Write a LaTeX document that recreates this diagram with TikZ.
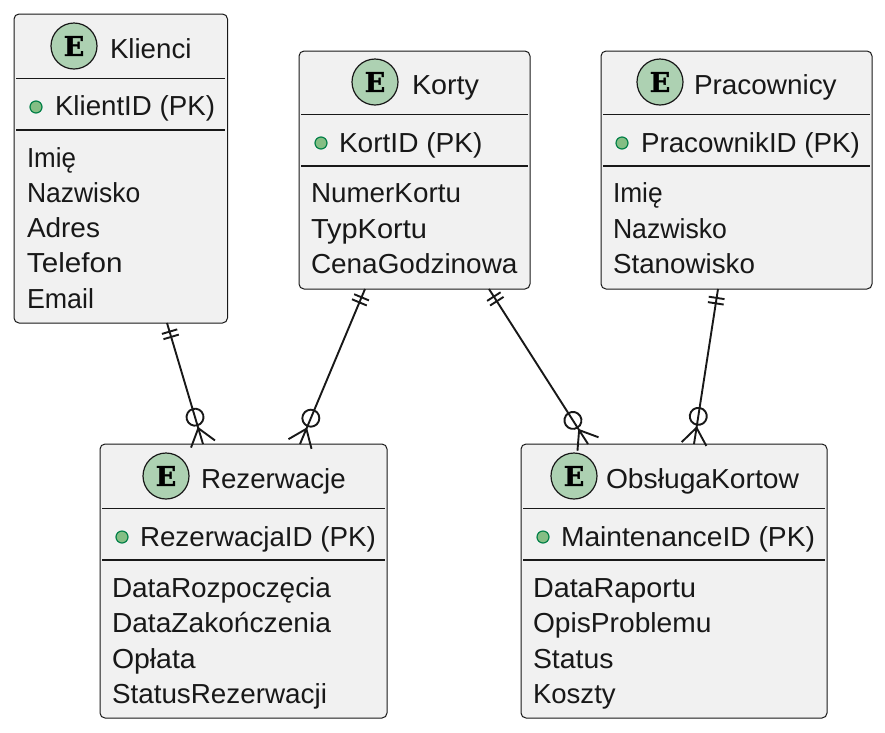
\documentclass[tikz,border=0pt]{standalone}
\usepackage{fontspec}
\usepackage{graphicx}
\setmainfont{Liberation Sans}
\newfontfamily\badgefont{DejaVu Serif}[BoldFeatures={FakeBold=1.5}]
\usetikzlibrary{arrows.meta}
\definecolor{boxfill}{HTML}{F1F1F1}
\definecolor{inkdark}{HTML}{181818}
\definecolor{badge}{HTML}{ADD1B2}
\definecolor{dotfill}{HTML}{84BE84}
\definecolor{dotline}{HTML}{038048}
\newcommand{\fitw}[2]{\resizebox{#1pt}{\height}{#2}}
\pgfdeclarearrow{name=CrowZero,cache=false,
  setup code={\pgfarrowssettipend{0pt}\pgfarrowssetlineend{0pt}\pgfarrowssetbackend{-37pt}\pgfarrowssetvisualbackend{0pt}},
  drawing code={\pgfsetdash{}{0pt}\pgfsetlinewidth{1.9pt}%
    \pgfpathmoveto{\pgfpoint{0pt}{12.5pt}}\pgfpathlineto{\pgfpoint{-16.5pt}{0pt}}\pgfpathlineto{\pgfpoint{0pt}{-12.5pt}}%
    \pgfpathcircle{\pgfpoint{-28pt}{0pt}}{8.5pt}\pgfusepathqstroke}}
\pgfdeclarearrow{name=BarPair,cache=false,
  setup code={\pgfarrowssettipend{0pt}\pgfarrowssetlineend{0pt}\pgfarrowssetbackend{-15pt}\pgfarrowssetvisualbackend{0pt}},
  drawing code={\pgfsetdash{}{0pt}\pgfsetlinewidth{1.9pt}%
    \pgfpathmoveto{\pgfpoint{-9pt}{8pt}}\pgfpathlineto{\pgfpoint{-9pt}{-8pt}}%
    \pgfpathmoveto{\pgfpoint{-14.5pt}{8pt}}\pgfpathlineto{\pgfpoint{-14.5pt}{-8pt}}\pgfusepathqstroke}}
\tikzset{
  entitybox/.style={draw=inkdark,fill=boxfill,line width=1pt,rounded corners=5pt,anchor=north west,inner sep=0pt,outer sep=0pt},
  label/.style={anchor=base west,inner sep=0pt,outer sep=0pt,text=inkdark,font=\fontsize{27.5}{30}\selectfont},
  badgecircle/.style={circle,draw=inkdark,fill=badge,line width=1.2pt,minimum size=46pt,inner sep=0pt,font=\fontsize{27}{27}\selectfont\badgefont\bfseries},
  keydot/.style={circle,draw=dotline,fill=dotfill,line width=1.2pt,minimum size=12pt,inner sep=0pt},
  thinrule/.style={draw=inkdark,line width=1pt},
  thickrule/.style={draw=inkdark,line width=1.9pt},
  relation/.style={draw=inkdark,line width=1.9pt,{BarPair}-{CrowZero}},
}
\begin{document}
\begin{tikzpicture}[x=1pt,y=-1pt]
\useasboundingbox (0,0) rectangle (885,732);
% Klienci
\node[entitybox,minimum width=213.5pt,minimum height=309pt] (klienci) at (14,14) {};
\node[badgecircle] (klienciE) at (74,46) {E};
\node[label] (klienciT) at (110,58) {\fitw{81.5}{Klienci}};
\draw[thinrule] (16,78) -- (225,78);
\node[keydot] (klienciD) at (36,107) {};
\node[label] (klienciK) at (55,115) {\fitw{160}{KlientID (PK)}};
\draw[thickrule] (16,130) -- (225,130);
\node[label] (klienci1) at (27,167) {\fitw{49}{Imię}};
\node[label] (klienci2) at (27,202) {\fitw{113.3}{Nazwisko}};
\node[label] (klienci3) at (27,237) {\fitw{73}{Adres}};
\node[label] (klienci4) at (27,272.5) {\fitw{95.5}{Telefon}};
\node[label] (klienci5) at (27,308) {\fitw{67}{Email}};
% Korty
\node[entitybox,minimum width=231pt,minimum height=238pt] (korty) at (299,51) {};
\node[badgecircle] (kortyE) at (375,82) {E};
\node[label] (kortyT) at (412,94) {\fitw{67}{Korty}};
\draw[thinrule] (301,114.5) -- (528,114.5);
\node[keydot] (kortyD) at (321,143) {};
\node[label] (kortyK) at (339,152) {\fitw{143.5}{KortID (PK)}};
\draw[thickrule] (301,166) -- (528,166);
\node[label] (korty1) at (311,202) {\fitw{150}{NumerKortu}};
\node[label] (korty2) at (311,238) {\fitw{116}{TypKortu}};
\node[label] (korty3) at (311,273) {\fitw{206.5}{CenaGodzinowa}};
% Pracownicy
\node[entitybox,minimum width=271pt,minimum height=238pt] (prac) at (601,51) {};
\node[badgecircle] (pracE) at (660,82) {E};
\node[label] (pracT) at (694,94) {\fitw{142.7}{Pracownicy}};
\draw[thinrule] (603,114.5) -- (870,114.5);
\node[keydot] (pracD) at (622,143) {};
\node[label] (pracK) at (641,152) {\fitw{219}{PracownikID (PK)}};
\draw[thickrule] (603,166) -- (870,166);
\node[label] (prac1) at (613,202) {\fitw{49.7}{Imię}};
\node[label] (prac2) at (613,238) {\fitw{114}{Nazwisko}};
\node[label] (prac3) at (613,273) {\fitw{142}{Stanowisko}};
% Rezerwacje
\node[entitybox,minimum width=287pt,minimum height=274pt] (rez) at (100,444) {};
\node[badgecircle] (rezE) at (166,476) {E};
\node[label] (rezT) at (201,488) {\fitw{144.7}{Rezerwacje}};
\draw[thinrule] (102,508) -- (385,508);
\node[keydot] (rezD) at (122,537) {};
\node[label] (rezK) at (140,546) {\fitw{236}{RezerwacjaID (PK)}};
\draw[thickrule] (102,560) -- (385,560);
\node[label] (rez1) at (112,597) {\fitw{219}{DataRozpoczęcia}};
\node[label] (rez2) at (112,632) {\fitw{219}{DataZakończenia}};
\node[label] (rez3) at (112,668) {\fitw{83.7}{Opłata}};
\node[label] (rez4) at (112,703) {\fitw{215}{StatusRezerwacji}};
% ObslugaKortow
\node[entitybox,minimum width=306pt,minimum height=274pt] (obs) at (521,444) {};
\node[badgecircle] (obsE) at (574,476) {E};
\node[label] (obsT) at (606,488) {\fitw{193}{ObsługaKortow}};
\draw[thinrule] (523,508) -- (825,508);
\node[keydot] (obsD) at (543,537) {};
\node[label] (obsK) at (561,546) {\fitw{254}{MaintenanceID (PK)}};
\draw[thickrule] (523,560) -- (825,560);
\node[label] (obs1) at (533,597) {\fitw{163}{DataRaportu}};
\node[label] (obs2) at (533,632) {\fitw{178.5}{OpisProblemu}};
\node[label] (obs3) at (533,668) {\fitw{80.5}{Status}};
\node[label] (obs4) at (533,703) {\fitw{82.7}{Koszty}};
% Relations
\draw[relation] ([xshift=153pt]klienci.south west) -- ([xshift=103pt]rez.north west);
\draw[relation] ([xshift=66pt]korty.south west) -- ([xshift=200pt]rez.north west);
\draw[relation] ([xshift=190pt]korty.south west) -- ([xshift=67pt]obs.north west);
\draw[relation] ([xshift=117pt]prac.south west) -- ([xshift=173pt]obs.north west);
\end{tikzpicture}
\end{document}
